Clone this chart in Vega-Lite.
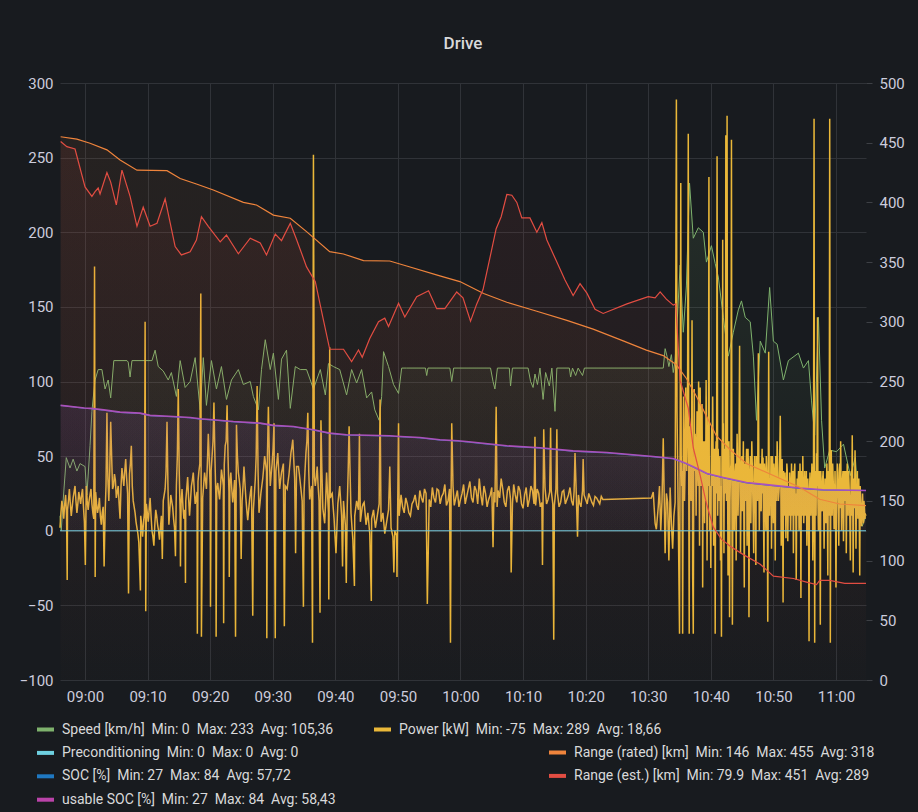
{
  "$schema": "https://vega.github.io/schema/vega-lite/v6.json",
  "width": 806,
  "height": 597,
  "autosize": {"type": "none"},
  "padding": {"left": 60, "top": 83, "right": 52, "bottom": 132},
  "background": "#181b1f",
  "title": {"text": "Drive", "anchor": "middle", "frame": "group", "font": "Roboto", "fontSize": 17, "fontWeight": 500, "color": "#d8d9da", "baseline": "alphabetic", "offset": 10},
  "config": {
    "view": {"stroke": null},
    "axis": {"labelFont": "Roboto", "labelFontSize": 15, "labelColor": "#ccccdc", "domain": false, "ticks": false, "title": null, "gridColor": "#303338", "gridWidth": 1},
    "legend": {"orient": "none", "direction": "vertical", "title": null, "labelFont": "Roboto", "labelFontSize": 14, "labelColor": "#d8d9da", "labelLimit": 600, "labelOffset": 6, "symbolType": "stroke", "symbolStrokeWidth": 4, "symbolSize": 289, "symbolOpacity": 1, "rowPadding": 4.4, "padding": 0}
  },
  "datasets": {
    "speed": [{"t":-4,"v":10},{"t":-3.8,"v":0},{"t":-3.5,"v":20},{"t":-3,"v":49},{"t":-2.4,"v":42},{"t":-1.9,"v":48},{"t":-1.3,"v":40},{"t":-0.8,"v":45},{"t":0,"v":43},{"t":0.3,"v":24},{"t":0.8,"v":57},{"t":1.1,"v":80},{"t":1.6,"v":101},{"t":2.1,"v":108},{"t":2.7,"v":108},{"t":3.2,"v":95},{"t":3.7,"v":101},{"t":4.1,"v":89},{"t":4.6,"v":114},{"t":6.7,"v":114},{"t":6.9,"v":113},{"t":7.2,"v":103},{"t":7.5,"v":114},{"t":10.7,"v":114},{"t":11.2,"v":121},{"t":11.7,"v":110},{"t":12.5,"v":107},{"t":13.3,"v":101},{"t":13.8,"v":106},{"t":14.6,"v":90},{"t":15.2,"v":114},{"t":16,"v":96},{"t":16.8,"v":100},{"t":17.6,"v":116},{"t":18.4,"v":81},{"t":18.9,"v":116},{"t":19.4,"v":84},{"t":20.2,"v":114},{"t":21,"v":95},{"t":21.8,"v":110},{"t":22.6,"v":88},{"t":23.4,"v":101},{"t":24.5,"v":108},{"t":25.3,"v":98},{"t":26.4,"v":100},{"t":26.9,"v":90},{"t":27.7,"v":81},{"t":28.2,"v":108},{"t":28.8,"v":128},{"t":29.6,"v":108},{"t":30.1,"v":119},{"t":30.9,"v":88},{"t":31.4,"v":115},{"t":32.2,"v":121},{"t":32.8,"v":82},{"t":33.6,"v":110},{"t":34.4,"v":108},{"t":35.4,"v":108},{"t":36.5,"v":95},{"t":37.6,"v":108},{"t":38.4,"v":91},{"t":38.9,"v":112},{"t":39.7,"v":110},{"t":40.7,"v":108},{"t":41.8,"v":91},{"t":42.6,"v":108},{"t":43.4,"v":99},{"t":44.2,"v":108},{"t":45,"v":89},{"t":45.8,"v":93},{"t":46.3,"v":81},{"t":47,"v":74},{"t":47.4,"v":90},{"t":47.7,"v":120},{"t":48.5,"v":110},{"t":49.3,"v":98},{"t":50.1,"v":92},{"t":50.6,"v":109},{"t":51.4,"v":109},{"t":54.4,"v":109},{"t":54.6,"v":104},{"t":54.8,"v":109},{"t":58.3,"v":109},{"t":58.6,"v":100},{"t":58.9,"v":109},{"t":64.8,"v":109},{"t":65.2,"v":100},{"t":65.5,"v":95},{"t":65.9,"v":109},{"t":67.8,"v":109},{"t":68,"v":97},{"t":68.3,"v":109},{"t":70.8,"v":109},{"t":71.2,"v":100},{"t":71.6,"v":96},{"t":71.9,"v":105},{"t":72.3,"v":98},{"t":72.7,"v":109},{"t":73.2,"v":88},{"t":73.6,"v":106},{"t":74.2,"v":97},{"t":74.6,"v":109},{"t":75.1,"v":80},{"t":75.4,"v":109},{"t":77.4,"v":109},{"t":77.6,"v":103},{"t":77.9,"v":109},{"t":78.4,"v":104},{"t":78.8,"v":109},{"t":79.5,"v":104},{"t":79.8,"v":109},{"t":92.4,"v":109},{"t":92.7,"v":122},{"t":93,"v":117},{"t":93.3,"v":110},{"t":93.7,"v":118},{"t":94,"v":106},{"t":94.3,"v":114},{"t":95.1,"v":178},{"t":95.6,"v":133},{"t":96.1,"v":164},{"t":96.6,"v":233},{"t":97.2,"v":196},{"t":98,"v":203},{"t":98.8,"v":200},{"t":99.3,"v":180},{"t":100.1,"v":191},{"t":100.7,"v":179},{"t":101.2,"v":170},{"t":102,"v":143},{"t":102.8,"v":117},{"t":103.6,"v":133},{"t":104.4,"v":148},{"t":104.9,"v":154},{"t":105.5,"v":143},{"t":106.3,"v":140},{"t":106.8,"v":117},{"t":107.3,"v":74},{"t":107.9,"v":127},{"t":108.7,"v":119},{"t":109.4,"v":163},{"t":110,"v":127},{"t":110.6,"v":125},{"t":111.6,"v":101},{"t":112.4,"v":114},{"t":114,"v":119},{"t":114.8,"v":109},{"t":115.6,"v":114},{"t":116.1,"v":87},{"t":116.6,"v":64},{"t":117.2,"v":143},{"t":117.7,"v":74},{"t":118.2,"v":42},{"t":119,"v":54},{"t":120.1,"v":53},{"t":121.2,"v":58},{"t":122.3,"v":37},{"t":123.1,"v":49},{"t":123.6,"v":16},{"t":124.2,"v":3},{"t":124.7,"v":9}],
    "power": [{"t":-4,"v":2},{"t":-3.7,"v":20},{"t":-3.4,"v":8},{"t":-3.1,"v":24},{"t":-2.85,"v":-33},{"t":-2.8,"v":14},{"t":-2.5,"v":28},{"t":-2.2,"v":10},{"t":-1.9,"v":22},{"t":-1.6,"v":30},{"t":-1.3,"v":12},{"t":-1,"v":26},{"t":-0.7,"v":18},{"t":-0.4,"v":28},{"t":-0.1,"v":6},{"t":0.05,"v":-23},{"t":0.2,"v":30},{"t":0.5,"v":14},{"t":0.8,"v":24},{"t":1.1,"v":18},{"t":1.4,"v":8},{"t":1.52,"v":177},{"t":1.62,"v":-31},{"t":1.7,"v":26},{"t":2,"v":12},{"t":2.3,"v":22},{"t":2.6,"v":4},{"t":2.9,"v":16},{"t":3.05,"v":-24},{"t":3.2,"v":10},{"t":3.5,"v":79},{"t":3.8,"v":20},{"t":4.1,"v":73},{"t":4.4,"v":28},{"t":4.7,"v":38},{"t":5,"v":22},{"t":5.3,"v":30},{"t":5.6,"v":8},{"t":5.9,"v":42},{"t":6.2,"v":30},{"t":6.5,"v":48},{"t":6.8,"v":25},{"t":6.95,"v":-42},{"t":7.1,"v":38},{"t":7.4,"v":57},{"t":7.7,"v":20},{"t":8,"v":12},{"t":8.3,"v":2},{"t":8.6,"v":-8},{"t":8.85,"v":-40},{"t":8.9,"v":10},{"t":9.2,"v":-4},{"t":9.5,"v":12},{"t":9.6,"v":140},{"t":9.7,"v":-54},{"t":9.8,"v":18},{"t":10.1,"v":6},{"t":10.4,"v":22},{"t":10.7,"v":0},{"t":11,"v":-10},{"t":11.3,"v":14},{"t":11.6,"v":4},{"t":11.9,"v":-6},{"t":12.2,"v":10},{"t":12.35,"v":-19},{"t":12.5,"v":20},{"t":12.8,"v":28},{"t":13.1,"v":73},{"t":13.4,"v":4},{"t":13.7,"v":24},{"t":14,"v":16},{"t":14.3,"v":2},{"t":14.45,"v":-17},{"t":14.6,"v":30},{"t":14.9,"v":95},{"t":15.2,"v":12},{"t":15.25,"v":-24},{"t":15.5,"v":28},{"t":15.8,"v":8},{"t":16.05,"v":-35},{"t":16.1,"v":20},{"t":16.4,"v":36},{"t":16.7,"v":10},{"t":17,"v":30},{"t":17.3,"v":39},{"t":17.6,"v":18},{"t":17.9,"v":26},{"t":17.95,"v":-69},{"t":18.2,"v":40},{"t":18.5,"v":159},{"t":18.6,"v":-71},{"t":18.8,"v":22},{"t":19.1,"v":39},{"t":19.4,"v":28},{"t":19.7,"v":65},{"t":20,"v":30},{"t":20.05,"v":-51},{"t":20.3,"v":50},{"t":20.6,"v":86},{"t":20.9,"v":24},{"t":20.95,"v":-71},{"t":21.2,"v":32},{"t":21.5,"v":21},{"t":21.8,"v":41},{"t":22.1,"v":30},{"t":22.15,"v":-62},{"t":22.4,"v":57},{"t":22.7,"v":84},{"t":23,"v":26},{"t":23.05,"v":-31},{"t":23.3,"v":39},{"t":23.6,"v":19},{"t":23.9,"v":34},{"t":24.05,"v":-71},{"t":24.2,"v":71},{"t":24.5,"v":39},{"t":24.8,"v":28},{"t":24.95,"v":-19},{"t":25.1,"v":20},{"t":25.4,"v":43},{"t":25.7,"v":22},{"t":26,"v":7},{"t":26.3,"v":21},{"t":26.6,"v":30},{"t":26.8,"v":-57},{"t":26.9,"v":14},{"t":27.2,"v":34},{"t":27.5,"v":97},{"t":27.8,"v":12},{"t":28.1,"v":25},{"t":28.4,"v":35},{"t":28.7,"v":50},{"t":29,"v":40},{"t":29.05,"v":-72},{"t":29.3,"v":83},{"t":29.6,"v":30},{"t":29.9,"v":45},{"t":30.2,"v":72},{"t":30.4,"v":-72},{"t":30.5,"v":40},{"t":30.8,"v":52},{"t":31.1,"v":28},{"t":31.4,"v":39},{"t":31.7,"v":45},{"t":31.85,"v":-64},{"t":32,"v":30},{"t":32.3,"v":28},{"t":32.6,"v":38},{"t":32.9,"v":52},{"t":33.2,"v":61},{"t":33.5,"v":35},{"t":33.65,"v":-15},{"t":33.8,"v":43},{"t":34.1,"v":43},{"t":34.4,"v":32},{"t":34.7,"v":20},{"t":34.9,"v":-51},{"t":35,"v":26},{"t":35.3,"v":52},{"t":35.6,"v":79},{"t":35.9,"v":21},{"t":36.2,"v":30},{"t":36.35,"v":-75},{"t":36.5,"v":252},{"t":36.8,"v":30},{"t":37.1,"v":43},{"t":37.4,"v":20},{"t":37.55,"v":-55},{"t":37.7,"v":74},{"t":38,"v":15},{"t":38.3,"v":5},{"t":38.6,"v":39},{"t":38.9,"v":12},{"t":38.95,"v":-46},{"t":39.1,"v":123},{"t":39.2,"v":22},{"t":39.5,"v":25},{"t":39.8,"v":8},{"t":40.1,"v":-15},{"t":40.4,"v":18},{"t":40.7,"v":30},{"t":41,"v":10},{"t":41.15,"v":-24},{"t":41.3,"v":20},{"t":41.6,"v":4},{"t":41.75,"v":-35},{"t":41.9,"v":16},{"t":42.2,"v":70},{"t":42.5,"v":12},{"t":42.8,"v":-6},{"t":43.05,"v":-37},{"t":43.1,"v":10},{"t":43.4,"v":20},{"t":43.7,"v":14},{"t":43.85,"v":65},{"t":44,"v":6},{"t":44.3,"v":16},{"t":44.6,"v":19},{"t":44.9,"v":4},{"t":45.2,"v":12},{"t":45.5,"v":-2},{"t":45.75,"v":-47},{"t":45.8,"v":8},{"t":46.1,"v":14},{"t":46.4,"v":2},{"t":46.7,"v":10},{"t":47,"v":18},{"t":47.15,"v":88},{"t":47.3,"v":6},{"t":47.6,"v":12},{"t":47.9,"v":-2},{"t":48.2,"v":6},{"t":48.5,"v":14},{"t":48.7,"v":43},{"t":48.9,"v":2},{"t":49.2,"v":-4},{"t":49.35,"v":-28},{"t":49.5,"v":0},{"t":49.8,"v":-3},{"t":49.85,"v":-31},{"t":50.1,"v":72},{"t":50.2,"v":10},{"t":50.5,"v":24},{"t":51,"v":12},{"t":51.5,"v":18},{"t":52,"v":10},{"t":52.5,"v":20},{"t":53,"v":17},{"t":53.5,"v":27},{"t":54,"v":19},{"t":54.5,"v":25},{"t":54.7,"v":-49},{"t":55,"v":21},{"t":55.5,"v":29},{"t":56,"v":19},{"t":56.5,"v":27},{"t":57,"v":23},{"t":57.5,"v":31},{"t":58,"v":20},{"t":58.4,"v":-75},{"t":58.5,"v":25},{"t":58.6,"v":72},{"t":59,"v":17},{"t":59.5,"v":27},{"t":60,"v":21},{"t":60.5,"v":31},{"t":61,"v":23},{"t":61.5,"v":33},{"t":62,"v":19},{"t":62.5,"v":27},{"t":63,"v":35},{"t":63.5,"v":17},{"t":64,"v":25},{"t":64.5,"v":21},{"t":65,"v":29},{"t":65.2,"v":-11},{"t":65.5,"v":19},{"t":65.7,"v":83},{"t":66,"v":27},{"t":66.5,"v":35},{"t":67,"v":19},{"t":67.5,"v":27},{"t":68,"v":21},{"t":68.1,"v":-28},{"t":68.5,"v":31},{"t":69,"v":19},{"t":69.5,"v":27},{"t":70,"v":15},{"t":70.5,"v":29},{"t":71,"v":21},{"t":71.5,"v":27},{"t":71.9,"v":63},{"t":72,"v":17},{"t":72.5,"v":25},{"t":73,"v":19},{"t":73.1,"v":-23},{"t":73.3,"v":68},{"t":73.5,"v":29},{"t":74,"v":21},{"t":74.4,"v":69},{"t":74.5,"v":27},{"t":74.9,"v":-73},{"t":75,"v":17},{"t":75.4,"v":68},{"t":75.5,"v":25},{"t":76,"v":19},{"t":76.5,"v":27},{"t":77,"v":21},{"t":77.5,"v":29},{"t":78,"v":17},{"t":78.3,"v":52},{"t":78.5,"v":25},{"t":78.7,"v":-4},{"t":79,"v":19},{"t":79.5,"v":27},{"t":79.6,"v":48},{"t":80,"v":21},{"t":80.5,"v":25},{"t":81,"v":19},{"t":81.5,"v":23},{"t":82,"v":20},{"t":82.5,"v":23},{"t":82.9,"v":21},{"t":90.5,"v":22},{"t":90.8,"v":26},{"t":91.1,"v":5},{"t":91.3,"v":1},{"t":91.6,"v":16},{"t":91.8,"v":30},{"t":92,"v":0},{"t":92.2,"v":20},{"t":92.4,"v":62},{"t":92.7,"v":-15},{"t":92.9,"v":25},{"t":93.1,"v":19},{"t":93.3,"v":-20},{"t":93.5,"v":29},{"t":93.7,"v":5},{"t":93.9,"v":-12},{"t":94.1,"v":10},{"t":94.3,"v":19},{"t":94.5,"v":289},{"t":94.6,"v":80},{"t":94.8,"v":10},{"t":95,"v":-69},{"t":95.1,"v":60},{"t":95.2,"v":233},{"t":95.35,"v":30},{"t":95.5,"v":-69},{"t":95.65,"v":90},{"t":95.8,"v":20},{"t":96,"v":96},{"t":96.15,"v":40},{"t":96.3,"v":110},{"t":96.4,"v":266},{"t":96.55,"v":-69},{"t":96.7,"v":70},{"t":96.85,"v":20},{"t":97,"v":141},{"t":97.1,"v":-30},{"t":97.2,"v":-69},{"t":97.35,"v":95},{"t":97.5,"v":65},{"t":97.65,"v":10},{"t":97.8,"v":80},{"t":97.9,"v":39},{"t":98.05,"v":100},{"t":98.2,"v":-10},{"t":98.3,"v":96},{"t":98.45,"v":30},{"t":98.6,"v":85},{"t":98.7,"v":-38},{"t":98.85,"v":60},{"t":99,"v":5},{"t":99.1,"v":39},{"t":99.25,"v":101},{"t":99.4,"v":-20},{"t":99.55,"v":75},{"t":99.7,"v":237},{"t":99.8,"v":0},{"t":100,"v":-25},{"t":100.15,"v":70},{"t":100.3,"v":90},{"t":100.45,"v":-10},{"t":100.6,"v":55},{"t":100.7,"v":-69},{"t":100.85,"v":60},{"t":101,"v":251},{"t":101.1,"v":10},{"t":101.25,"v":45},{"t":101.4,"v":39},{"t":101.55,"v":-20},{"t":101.7,"v":-71},{"t":101.8,"v":60},{"t":101.9,"v":195},{"t":102,"v":72},{"t":102.1,"v":-15},{"t":102.25,"v":50},{"t":102.4,"v":265},{"t":102.5,"v":20},{"t":102.6,"v":278},{"t":102.75,"v":-30},{"t":102.9,"v":60},{"t":103,"v":-58},{"t":103.15,"v":40},{"t":103.3,"v":262},{"t":103.45,"v":-63},{"t":103.6,"v":55},{"t":103.75,"v":0},{"t":103.9,"v":39},{"t":104.05,"v":-20},{"t":104.2,"v":65},{"t":104.35,"v":10},{"t":104.5,"v":50},{"t":104.6,"v":124},{"t":104.75,"v":-15},{"t":104.9,"v":45},{"t":105.05,"v":13},{"t":105.2,"v":60},{"t":105.35,"v":-38},{"t":105.5,"v":30},{"t":105.65,"v":44},{"t":105.8,"v":-10},{"t":105.95,"v":55},{"t":106.1,"v":-58},{"t":106.25,"v":40},{"t":106.4,"v":5},{"t":106.55,"v":60},{"t":106.7,"v":26},{"t":106.85,"v":-15},{"t":107,"v":50},{"t":107.2,"v":-23},{"t":107.35,"v":35},{"t":107.6,"v":119},{"t":107.75,"v":0},{"t":107.9,"v":45},{"t":108.05,"v":13},{"t":108.2,"v":55},{"t":108.35,"v":49},{"t":108.5,"v":-28},{"t":108.65,"v":40},{"t":108.8,"v":0},{"t":108.95,"v":39},{"t":109.1,"v":-61},{"t":109.25,"v":120},{"t":109.4,"v":10},{"t":109.55,"v":26},{"t":109.7,"v":-12},{"t":109.85,"v":50},{"t":110,"v":5},{"t":110.15,"v":40},{"t":110.3,"v":-20},{"t":110.45,"v":35},{"t":110.6,"v":60},{"t":110.8,"v":20},{"t":111.1,"v":77},{"t":111.25,"v":-10},{"t":111.4,"v":48},{"t":111.55,"v":-48},{"t":111.7,"v":30},{"t":111.85,"v":39},{"t":112,"v":-5},{"t":112.15,"v":45},{"t":112.3,"v":-7},{"t":112.45,"v":30},{"t":112.6,"v":39},{"t":112.75,"v":0},{"t":112.9,"v":45},{"t":113.05,"v":26},{"t":113.2,"v":-15},{"t":113.35,"v":40},{"t":113.5,"v":10},{"t":113.65,"v":-33},{"t":113.8,"v":35},{"t":113.95,"v":31},{"t":114.1,"v":0},{"t":114.25,"v":45},{"t":114.4,"v":-45},{"t":114.55,"v":24},{"t":114.7,"v":50},{"t":114.85,"v":5},{"t":115,"v":40},{"t":115.2,"v":24},{"t":115.35,"v":-10},{"t":115.5,"v":35},{"t":115.7,"v":-74},{"t":115.85,"v":39},{"t":116,"v":10},{"t":116.15,"v":45},{"t":116.3,"v":-20},{"t":116.5,"v":276},{"t":116.6,"v":-75},{"t":116.75,"v":30},{"t":116.9,"v":52},{"t":117.05,"v":143},{"t":117.2,"v":0},{"t":117.35,"v":40},{"t":117.5,"v":-63},{"t":117.65,"v":30},{"t":117.8,"v":13},{"t":117.95,"v":40},{"t":118.1,"v":-12},{"t":118.25,"v":35},{"t":118.4,"v":5},{"t":118.55,"v":45},{"t":118.7,"v":-30},{"t":118.85,"v":20},{"t":119,"v":276},{"t":119.1,"v":-75},{"t":119.25,"v":54},{"t":119.4,"v":10},{"t":119.55,"v":35},{"t":119.7,"v":1},{"t":119.85,"v":40},{"t":120,"v":-38},{"t":120.15,"v":30},{"t":120.3,"v":39},{"t":120.45,"v":-10},{"t":120.6,"v":45},{"t":120.75,"v":60},{"t":120.9,"v":0},{"t":121.05,"v":35},{"t":121.2,"v":-7},{"t":121.35,"v":40},{"t":121.5,"v":26},{"t":121.65,"v":-15},{"t":121.8,"v":45},{"t":121.95,"v":10},{"t":122.1,"v":30},{"t":122.3,"v":-20},{"t":122.45,"v":40},{"t":122.6,"v":64},{"t":122.75,"v":-28},{"t":122.9,"v":35},{"t":123.05,"v":54},{"t":123.2,"v":-12},{"t":123.35,"v":30},{"t":123.5,"v":8},{"t":123.65,"v":35},{"t":123.8,"v":-30},{"t":123.95,"v":20},{"t":124.1,"v":3},{"t":124.25,"v":25},{"t":124.4,"v":5},{"t":124.55,"v":15},{"t":124.7,"v":11},{"t":124.8,"v":10},
      {"t":-3.85,"v":12},{"t":-3.55,"v":16},{"t":-3.25,"v":18},{"t":-2.95,"v":10},{"t":-2.65,"v":20},{"t":-2.35,"v":18},{"t":-2.05,"v":16},{"t":-1.75,"v":26},{"t":-1.45,"v":20},{"t":-1.15,"v":18},{"t":-0.85,"v":22},{"t":-0.55,"v":24},{"t":-0.25,"v":16},{"t":0.35,"v":20},{"t":0.65,"v":20},{"t":0.95,"v":28},{"t":1.25,"v":12},{"t":1.85,"v":18},{"t":2.15,"v":16},{"t":2.45,"v":10},{"t":2.75,"v":12},{"t":3.35,"v":30},{"t":3.65,"v":35},{"t":3.95,"v":40},{"t":4.25,"v":50},{"t":4.55,"v":30},{"t":4.85,"v":34},{"t":5.15,"v":26},{"t":5.45,"v":18},{"t":5.75,"v":30},{"t":6.05,"v":36},{"t":6.35,"v":40},{"t":6.65,"v":35},{"t":7.25,"v":45},{"t":7.55,"v":30},{"t":7.85,"v":16},{"t":8.15,"v":6},{"t":8.45,"v":-2},{"t":9.05,"v":4},{"t":9.35,"v":6},{"t":9.95,"v":12},{"t":10.25,"v":14},{"t":10.55,"v":10},{"t":10.85,"v":-4},{"t":11.15,"v":4},{"t":11.45,"v":10},{"t":11.75,"v":0},{"t":12.05,"v":2},{"t":12.65,"v":24},{"t":12.95,"v":40},{"t":13.25,"v":30},{"t":13.55,"v":14},{"t":13.85,"v":20},{"t":14.15,"v":8},{"t":14.75,"v":50},{"t":15.05,"v":40},{"t":15.35,"v":18},{"t":15.65,"v":16},{"t":15.95,"v":14},{"t":16.25,"v":28},{"t":16.55,"v":22},{"t":16.85,"v":20},{"t":17.15,"v":34},{"t":17.45,"v":28},{"t":17.75,"v":22},{"t":18.05,"v":33},{"t":18.35,"v":45},{"t":18.95,"v":30},{"t":19.25,"v":34},{"t":19.55,"v":45},{"t":19.85,"v":48},{"t":20.15,"v":40},{"t":20.45,"v":60},{"t":20.75,"v":50},{"t":21.05,"v":28},{"t":21.35,"v":26},{"t":21.65,"v":30},{"t":21.95,"v":36},{"t":22.25,"v":44},{"t":22.55,"v":60},{"t":22.85,"v":50},{"t":23.15,"v":32},{"t":23.45,"v":28},{"t":23.75,"v":26},{"t":24.35,"v":50},{"t":24.65,"v":34},{"t":25.25,"v":30},{"t":25.55,"v":32},{"t":25.85,"v":14},{"t":26.15,"v":14},{"t":26.45,"v":26},{"t":27.05,"v":24},{"t":27.35,"v":50},{"t":27.65,"v":40},{"t":27.95,"v":18},{"t":28.25,"v":30},{"t":28.55,"v":42},{"t":28.85,"v":45},{"t":29.15,"v":50},{"t":29.45,"v":50},{"t":29.75,"v":38},{"t":30.05,"v":55},{"t":30.65,"v":46},{"t":30.95,"v":40},{"t":31.25,"v":34},{"t":31.55,"v":42},{"t":32.15,"v":29},{"t":32.45,"v":33},{"t":32.75,"v":45},{"t":33.05,"v":56},{"t":33.35,"v":48},{"t":33.95,"v":43},{"t":34.25,"v":38},{"t":34.55,"v":26},{"t":35.15,"v":40},{"t":35.45,"v":60},{"t":35.75,"v":40},{"t":36.05,"v":26},{"t":36.65,"v":36},{"t":36.95,"v":36},{"t":37.25,"v":30},{"t":37.85,"v":40},{"t":38.15,"v":10},{"t":38.45,"v":20},{"t":38.75,"v":25},{"t":39.35,"v":24},{"t":39.65,"v":16},{"t":39.95,"v":-4},{"t":40.25,"v":2},{"t":40.55,"v":24},{"t":40.85,"v":20},{"t":41.45,"v":12},{"t":42.05,"v":40},{"t":42.35,"v":40},{"t":42.65,"v":3},{"t":43.25,"v":15},{"t":43.55,"v":17},{"t":44.15,"v":11},{"t":44.45,"v":18},{"t":44.75,"v":12},{"t":45.05,"v":8},{"t":45.35,"v":5},{"t":45.95,"v":11},{"t":46.25,"v":8},{"t":46.55,"v":6},{"t":46.85,"v":14},{"t":47.45,"v":9},{"t":47.75,"v":5},{"t":48.05,"v":2},{"t":48.35,"v":10},{"t":48.6,"v":28},{"t":49.05,"v":-1},{"t":49.65,"v":-2},{"t":50.35,"v":17},
      {"t":50.75,"v":16},{"t":51.25,"v":22},{"t":51.75,"v":12},{"t":52.25,"v":18},{"t":52.75,"v":24},{"t":53.25,"v":14},{"t":53.75,"v":22},{"t":54.25,"v":28},{"t":55.25,"v":16},{"t":55.75,"v":22},{"t":56.25,"v":28},{"t":56.75,"v":18},{"t":57.25,"v":25},{"t":57.75,"v":17},{"t":58.25,"v":28},{"t":58.8,"v":30},{"t":59.25,"v":22},{"t":59.75,"v":16},{"t":60.25,"v":25},{"t":60.75,"v":18},{"t":61.25,"v":28},{"t":61.75,"v":22},{"t":62.25,"v":30},{"t":62.75,"v":18},{"t":63.25,"v":24},{"t":63.75,"v":30},{"t":64.25,"v":16},{"t":64.75,"v":24},{"t":65.35,"v":26},{"t":65.85,"v":16},{"t":66.25,"v":22},{"t":66.75,"v":28},{"t":67.25,"v":16},{"t":67.75,"v":30},{"t":68.3,"v":18},{"t":68.75,"v":24},{"t":69.25,"v":30},{"t":69.75,"v":18},{"t":70.25,"v":24},{"t":70.75,"v":16},{"t":71.25,"v":30},{"t":71.75,"v":18},{"t":72.25,"v":28},{"t":72.75,"v":16},{"t":73.75,"v":18},{"t":74.25,"v":26},{"t":74.75,"v":18},{"t":75.25,"v":28},{"t":75.75,"v":16},{"t":76.25,"v":26},{"t":76.75,"v":18},{"t":77.25,"v":24},{"t":77.75,"v":20},{"t":78.15,"v":26},{"t":78.85,"v":24},{"t":79.25,"v":16},{"t":79.75,"v":24},{"t":80.25,"v":18},{"t":80.75,"v":22},{"t":81.25,"v":17},{"t":81.75,"v":22},{"t":82.25,"v":18},{"t":82.75,"v":21},
      {"t":95.27,"v":50},{"t":95.42,"v":40},{"t":95.57,"v":30},{"t":95.72,"v":60},{"t":95.9,"v":45},{"t":96.07,"v":70},{"t":96.22,"v":55},{"t":96.47,"v":40},{"t":96.62,"v":50},{"t":96.77,"v":35},{"t":96.92,"v":60},{"t":97.27,"v":30},{"t":97.42,"v":40},{"t":97.57,"v":55},{"t":97.72,"v":45},{"t":97.85,"v":60},{"t":97.97,"v":30},{"t":98.12,"v":60},{"t":98.25,"v":45},{"t":98.37,"v":55},{"t":98.52,"v":65},{"t":98.65,"v":40},{"t":98.77,"v":45},{"t":98.92,"v":30},{"t":99.05,"v":60},{"t":99.17,"v":20},{"t":99.32,"v":55},{"t":99.47,"v":40},{"t":99.62,"v":30},{"t":99.75,"v":45},{"t":99.9,"v":30},{"t":100.07,"v":40},{"t":100.22,"v":30},{"t":100.37,"v":50},{"t":100.52,"v":25},{"t":100.65,"v":30},{"t":100.77,"v":45},{"t":100.92,"v":25},{"t":101.17,"v":55},{"t":101.32,"v":20},{"t":101.47,"v":50},{"t":101.62,"v":30},{"t":101.75,"v":15},{"t":101.85,"v":35},{"t":101.95,"v":40},{"t":102.05,"v":30},{"t":102.17,"v":55},{"t":102.32,"v":25},{"t":102.45,"v":40},{"t":102.55,"v":35},{"t":102.67,"v":45},{"t":102.82,"v":25},{"t":102.95,"v":35},{"t":103.07,"v":20},{"t":103.22,"v":45},{"t":103.37,"v":30},{"t":103.52,"v":20},{"t":103.67,"v":40},{"t":103.82,"v":25},{"t":103.97,"v":45},
      {"t":104.12,"v":30},{"t":104.27,"v":45},{"t":104.42,"v":25},{"t":104.68,"v":40},{"t":104.82,"v":20},{"t":104.97,"v":50},{"t":105.12,"v":35},{"t":105.27,"v":15},{"t":105.42,"v":45},{"t":105.57,"v":20},{"t":105.72,"v":55},{"t":105.87,"v":25},{"t":106.02,"v":40},{"t":106.17,"v":15},{"t":106.32,"v":50},{"t":106.47,"v":30},{"t":106.62,"v":45},{"t":106.77,"v":10},{"t":106.92,"v":40},{"t":107.1,"v":25},{"t":107.27,"v":50},{"t":107.47,"v":20},{"t":107.68,"v":45},{"t":107.82,"v":30},{"t":107.97,"v":15},{"t":108.12,"v":40},{"t":108.27,"v":25},{"t":108.42,"v":10},{"t":108.57,"v":45},{"t":108.72,"v":20},{"t":108.87,"v":50},{"t":109.02,"v":30},{"t":109.17,"v":15},{"t":109.32,"v":40},{"t":109.47,"v":35},{"t":109.62,"v":50},{"t":109.77,"v":25},{"t":109.92,"v":20},{"t":110.07,"v":45},{"t":110.22,"v":15},{"t":110.37,"v":50},{"t":110.52,"v":20},{"t":110.7,"v":40},{"t":110.95,"v":30},{"t":111.17,"v":45},{"t":111.32,"v":20},{"t":111.47,"v":15},{"t":111.62,"v":40},{"t":111.77,"v":10},{"t":111.92,"v":30},{"t":112.07,"v":20},{"t":112.22,"v":40},{"t":112.37,"v":15},{"t":112.52,"v":10},{"t":112.67,"v":30},{"t":112.82,"v":20},{"t":112.97,"v":10},{"t":113.12,"v":40},{"t":113.27,"v":20},{"t":113.42,"v":45},{"t":113.57,"v":25},{"t":113.72,"v":15},{"t":113.87,"v":10},{"t":114.02,"v":40},{"t":114.17,"v":20},{"t":114.32,"v":30},{"t":114.47,"v":40},{"t":114.62,"v":10},{"t":114.77,"v":25},{"t":114.92,"v":20},{"t":115.1,"v":10},{"t":115.27,"v":40},{"t":115.42,"v":15},{"t":115.6,"v":20},{"t":115.77,"v":25},{"t":115.92,"v":30},{"t":116.07,"v":20},{"t":116.22,"v":35},{"t":116.4,"v":15},{"t":116.67,"v":40},{"t":116.82,"v":10},{"t":116.97,"v":30},{"t":117.12,"v":20},{"t":117.27,"v":15},{"t":117.42,"v":25},{"t":117.57,"v":40},{"t":117.72,"v":20},{"t":117.87,"v":35},{"t":118.02,"v":25},{"t":118.17,"v":10},{"t":118.32,"v":20},{"t":118.47,"v":30},{"t":118.62,"v":15},{"t":118.77,"v":40},{"t":118.92,"v":10},{"t":119.17,"v":30},{"t":119.32,"v":20},{"t":119.47,"v":45},{"t":119.62,"v":25},{"t":119.77,"v":15},{"t":119.92,"v":20},{"t":120.07,"v":10},{"t":120.22,"v":45},{"t":120.37,"v":20},{"t":120.52,"v":25},{"t":120.67,"v":15},{"t":120.82,"v":30},{"t":120.97,"v":20},{"t":121.12,"v":40},{"t":121.27,"v":15},{"t":121.42,"v":20},{"t":121.57,"v":40},{"t":121.72,"v":20},{"t":121.87,"v":25},{"t":122.02,"v":40},{"t":122.2,"v":15},{"t":122.37,"v":20},{"t":122.52,"v":10},{"t":122.67,"v":30},{"t":122.82,"v":20},{"t":122.97,"v":15},{"t":123.12,"v":30},{"t":123.27,"v":20},{"t":123.42,"v":40},{"t":123.57,"v":20},{"t":123.72,"v":10},{"t":123.87,"v":30},{"t":124.02,"v":15},{"t":124.17,"v":10},{"t":124.32,"v":15},{"t":124.47,"v":20},{"t":124.62,"v":8}],
    "pre": [{"t":-4,"v":0},{"t":124.8,"v":0}],
    "soc": [{"t":-3.9,"v":84},{"t":-0.1,"v":82},{"t":0.9,"v":81.8},{"t":3,"v":80.7},{"t":5.6,"v":79.2},{"t":8.8,"v":78.5},{"t":10.4,"v":77},{"t":14.1,"v":76.3},{"t":16.8,"v":75.6},{"t":18.4,"v":74.7},{"t":20.5,"v":74.1},{"t":23.7,"v":72.9},{"t":28,"v":71.8},{"t":30.1,"v":70.3},{"t":33.3,"v":69.6},{"t":36.5,"v":67.4},{"t":39.1,"v":65.1},{"t":41.8,"v":64},{"t":48.7,"v":63.4},{"t":50.4,"v":62.9},{"t":53.5,"v":62.2},{"t":56.7,"v":60.7},{"t":59.6,"v":60},{"t":61.3,"v":59.3},{"t":67.4,"v":56.6},{"t":72.7,"v":55.3},{"t":78,"v":53.2},{"t":83.4,"v":52.1},{"t":90.8,"v":49.5},{"t":94,"v":48.1},{"t":95.7,"v":45.5},{"t":97.2,"v":42.6},{"t":99.4,"v":38.1},{"t":102,"v":35.4},{"t":105.7,"v":32},{"t":110,"v":30.1},{"t":114.2,"v":28.3},{"t":117.9,"v":27.2},{"t":124.8,"v":27}],
    "usoc": [{"t":-3.9,"v":84},{"t":-0.1,"v":82.2},{"t":0.9,"v":82},{"t":3,"v":81},{"t":5.6,"v":79.5},{"t":8.8,"v":78.8},{"t":10.4,"v":77.3},{"t":14.1,"v":76.6},{"t":16.8,"v":75.9},{"t":18.4,"v":75},{"t":20.5,"v":74.4},{"t":23.7,"v":73.2},{"t":28,"v":72.1},{"t":30.1,"v":70.6},{"t":33.3,"v":69.9},{"t":36.5,"v":67.7},{"t":39.1,"v":65.4},{"t":41.8,"v":64.3},{"t":48.7,"v":63.7},{"t":50.4,"v":63.2},{"t":53.5,"v":62.5},{"t":56.7,"v":61},{"t":59.6,"v":60.3},{"t":61.3,"v":59.6},{"t":67.4,"v":56.9},{"t":72.7,"v":55.6},{"t":78,"v":53.5},{"t":83.4,"v":52.4},{"t":90.8,"v":49.8},{"t":94,"v":48.4},{"t":95.7,"v":45.8},{"t":97.2,"v":42.9},{"t":99.4,"v":38.4},{"t":102,"v":35.7},{"t":105.7,"v":32.3},{"t":110,"v":30.4},{"t":114.2,"v":28.6},{"t":117.9,"v":27.5},{"t":124.8,"v":27}],
    "rated": [{"t":-3.9,"v":455},{"t":-1.3,"v":453},{"t":0.8,"v":449.5},{"t":3.5,"v":444},{"t":5.6,"v":435.5},{"t":8.3,"v":427},{"t":13.1,"v":426.6},{"t":15.2,"v":420},{"t":17.8,"v":415.4},{"t":20.5,"v":410.4},{"t":25.3,"v":400},{"t":27.4,"v":397.8},{"t":30.1,"v":389.4},{"t":32.8,"v":386.7},{"t":35.4,"v":375.5},{"t":39.1,"v":358.7},{"t":41.3,"v":356.8},{"t":44.5,"v":351.2},{"t":48.7,"v":350.9},{"t":51.4,"v":346.7},{"t":56.7,"v":338.5},{"t":59.9,"v":333.7},{"t":63.7,"v":323.7},{"t":67.4,"v":316.4},{"t":72.2,"v":308.8},{"t":77,"v":301.2},{"t":81.2,"v":293.9},{"t":86,"v":284},{"t":89.7,"v":276.3},{"t":92.4,"v":271.7},{"t":94.5,"v":264},{"t":96.1,"v":252.5},{"t":97.7,"v":237.6},{"t":99.3,"v":221},{"t":100.9,"v":204.4},{"t":103.1,"v":192.8},{"t":105.7,"v":181.3},{"t":110,"v":171.3},{"t":114.2,"v":161.4},{"t":117.4,"v":151.4},{"t":120.6,"v":147.4},{"t":124.8,"v":146}],
    "est": [{"t":-3.9,"v":451},{"t":-2.9,"v":446.7},{"t":-1.6,"v":444.7},{"t":0,"v":413},{"t":1.1,"v":405},{"t":1.6,"v":409},{"t":2.1,"v":412},{"t":2.4,"v":407},{"t":3.5,"v":425},{"t":4.1,"v":417},{"t":5,"v":398},{"t":5.9,"v":427},{"t":7.2,"v":405},{"t":8.3,"v":380},{"t":9.3,"v":396},{"t":10.4,"v":380},{"t":11.5,"v":382.5},{"t":12.8,"v":403},{"t":14.4,"v":363},{"t":15.4,"v":356},{"t":16.8,"v":358.7},{"t":17.8,"v":368.5},{"t":18.6,"v":388},{"t":19.7,"v":380},{"t":21.6,"v":367},{"t":22.6,"v":372.7},{"t":24.5,"v":357},{"t":26.4,"v":370},{"t":28,"v":366},{"t":29,"v":356},{"t":30.4,"v":373.5},{"t":31.4,"v":368},{"t":32.8,"v":382.5},{"t":33.8,"v":369},{"t":35.4,"v":346},{"t":36.8,"v":333.6},{"t":38.1,"v":301.5},{"t":39.1,"v":277},{"t":41.3,"v":277},{"t":42.6,"v":266.6},{"t":43.7,"v":276.4},{"t":44.3,"v":270.3},{"t":45.5,"v":286},{"t":46.9,"v":300},{"t":47.9,"v":303},{"t":48.5,"v":296},{"t":50.1,"v":315.5},{"t":51.1,"v":304},{"t":53,"v":321},{"t":54.9,"v":326},{"t":56.2,"v":311},{"t":57.5,"v":311},{"t":59.4,"v":325},{"t":60.4,"v":320},{"t":61.6,"v":300.5},{"t":62.6,"v":315},{"t":63.6,"v":327},{"t":64.7,"v":353.5},{"t":65.7,"v":378},{"t":66.5,"v":388},{"t":67.4,"v":406.6},{"t":68.2,"v":406},{"t":69,"v":400},{"t":69.8,"v":387},{"t":71.1,"v":387},{"t":72.2,"v":375},{"t":73,"v":383},{"t":73.8,"v":368.5},{"t":75.4,"v":350},{"t":76.7,"v":335},{"t":78,"v":322},{"t":79.1,"v":332},{"t":80.2,"v":324},{"t":81.5,"v":310.5},{"t":82.8,"v":307},{"t":86.6,"v":315},{"t":90,"v":321},{"t":91.1,"v":320},{"t":91.9,"v":325},{"t":92.9,"v":319},{"t":94,"v":314},{"t":94.4,"v":315},{"t":95.1,"v":251},{"t":96.4,"v":227.6},{"t":97.2,"v":194.5},{"t":98.3,"v":171.3},{"t":99.3,"v":148},{"t":100.4,"v":128},{"t":101.7,"v":118},{"t":103.1,"v":112},{"t":105.2,"v":105},{"t":107.9,"v":97},{"t":110,"v":87},{"t":113.2,"v":85},{"t":115.3,"v":82},{"t":116.9,"v":79.9},{"t":117.4,"v":83.5},{"t":119,"v":83.5},{"t":121.4,"v":81},{"t":124.8,"v":81}]
  },
  "encoding": {
    "x": {
      "field": "t",
      "type": "quantitative",
      "scale": {"domain": [-4, 124.8], "nice": false, "zero": false},
      "axis": {
        "values": [0, 10, 20, 30, 40, 50, 60, 70, 80, 90, 100, 110, 120],
        "labelExpr": "(datum.value < 60 ? '09:' : datum.value < 120 ? '10:' : '11:') + (datum.value % 60 == 0 ? '00' : datum.value % 60)",
        "grid": true,
        "labelPadding": 9
      }
    }
  },
  "layer": [
    {
      "data": {"name": "speed"},
      "layer": [
        {
          "mark": {"type": "area", "color": {"gradient": "linear", "x1": 0, "y1": 0, "x2": 0, "y2": 1, "stops": [{"offset": 0, "color": "rgba(126,178,109,0.12)"}, {"offset": 1, "color": "rgba(126,178,109,0.02)"}]}},
          "encoding": {
            "y": {
              "field": "v",
              "type": "quantitative",
              "scale": {"domain": [-100, 300], "nice": false},
              "axis": {"orient": "left", "values": [-100, -50, 0, 50, 100, 150, 200, 250, 300], "grid": true, "labelPadding": 7}
            }
          }
        },
        {
          "mark": {"type": "line", "strokeWidth": 1},
          "encoding": {
            "y": {"field": "v", "type": "quantitative"},
            "color": {
              "datum": "Speed [km/h]",
              "type": "nominal",
              "scale": {"domain": ["Speed [km/h]", "Preconditioning", "SOC [%]", "usable SOC [%]"], "range": ["#7EB26D", "#6ED0E0", "#1F78C1", "#BA43A9"]},
              "legend": {
                "legendX": -25,
                "legendY": 636,
                "labelExpr": "datum.label == 'Speed [km/h]' ? 'Speed [km/h]\u00a0 Min: 0\u00a0 Max: 233\u00a0 Avg: 105,36' : datum.label == 'Preconditioning' ? 'Preconditioning\u00a0 Min: 0\u00a0 Max: 0\u00a0 Avg: 0' : datum.label == 'SOC [%]' ? 'SOC [%]\u00a0 Min: 27\u00a0 Max: 84\u00a0 Avg: 57,72' : 'usable SOC [%]\u00a0 Min: 27\u00a0 Max: 84\u00a0 Avg: 58,43'"
              }
            }
          }
        }
      ]
    },
    {
      "data": {"name": "power"},
      "mark": {"type": "line", "strokeWidth": 1.5},
      "encoding": {
        "y": {"field": "v", "type": "quantitative", "scale": {"domain": [-100, 300], "nice": false}, "axis": null},
        "color": {
          "datum": "Power [kW]",
          "type": "nominal",
          "scale": {"domain": ["Power [kW]"], "range": ["#EAB839"]},
          "legend": {
            "legendX": 312,
            "legendY": 636,
            "labelExpr": "'Power [kW]\u00a0 Min: -75\u00a0 Max: 289\u00a0 Avg: 18,66'"
          }
        }
      }
    },
    {
      "layer": [
        {
          "data": {"name": "pre"},
          "mark": {"type": "line", "strokeWidth": 1},
          "encoding": {
            "y": {"field": "v", "type": "quantitative", "scale": {"domain": [-100, 300], "nice": false}, "axis": null},
            "color": {"datum": "Preconditioning", "type": "nominal", "legend": null}
          }
        },
        {
          "data": {"name": "soc"},
          "mark": {"type": "area", "color": {"gradient": "linear", "x1": 0, "y1": 0, "x2": 0, "y2": 1, "stops": [{"offset": 0, "color": "rgba(31,120,193,0.06)"}, {"offset": 1, "color": "rgba(31,120,193,0.01)"}]}},
          "encoding": {"y": {"field": "v", "type": "quantitative"}}
        },
        {
          "data": {"name": "soc"},
          "mark": {"type": "line", "strokeWidth": 1},
          "encoding": {
            "y": {"field": "v", "type": "quantitative"},
            "color": {"datum": "SOC [%]", "type": "nominal", "legend": null}
          }
        },
        {
          "data": {"name": "usoc"},
          "mark": {"type": "area", "color": {"gradient": "linear", "x1": 0, "y1": 0, "x2": 0, "y2": 1, "stops": [{"offset": 0, "color": "rgba(186,67,169,0.1)"}, {"offset": 1, "color": "rgba(186,67,169,0.03)"}]}},
          "encoding": {"y": {"field": "v", "type": "quantitative"}}
        },
        {
          "data": {"name": "usoc"},
          "mark": {"type": "line", "strokeWidth": 1.6},
          "encoding": {
            "y": {"field": "v", "type": "quantitative"},
            "color": {
              "datum": "usable SOC [%]",
              "type": "nominal",
              "scale": {"domain": ["Speed [km/h]", "Preconditioning", "SOC [%]", "usable SOC [%]"], "range": ["#7EB26D", "#6ED0E0", "#1F78C1", "#A64FC4"]},
              "legend": null
            }
          }
        }
      ]
    },
    {
      "layer": [
        {
          "data": {"name": "rated"},
          "mark": {"type": "area", "color": {"gradient": "linear", "x1": 0, "y1": 0, "x2": 0, "y2": 1, "stops": [{"offset": 0, "color": "rgba(239,132,60,0.065)"}, {"offset": 1, "color": "rgba(239,132,60,0.005)"}]}},
          "encoding": {
            "y": {
              "field": "v",
              "type": "quantitative",
              "scale": {"domain": [0, 500], "nice": false},
              "axis": {"orient": "right", "values": [0, 50, 100, 150, 200, 250, 300, 350, 400, 450, 500], "grid": false, "ticks": true, "tickSize": 6, "tickColor": "#3d4045", "labelPadding": 7}
            }
          }
        },
        {
          "data": {"name": "est"},
          "mark": {"type": "area", "color": {"gradient": "linear", "x1": 0, "y1": 0, "x2": 0, "y2": 1, "stops": [{"offset": 0, "color": "rgba(226,77,66,0.085)"}, {"offset": 1, "color": "rgba(226,77,66,0.005)"}]}},
          "encoding": {"y": {"field": "v", "type": "quantitative"}}
        },
        {
          "data": {"name": "rated"},
          "mark": {"type": "line", "strokeWidth": 1.2},
          "encoding": {
            "y": {"field": "v", "type": "quantitative"},
            "color": {
              "datum": "Range (rated) [km]",
              "type": "nominal",
              "scale": {"domain": ["Range (rated) [km]", "Range (est.) [km]"], "range": ["#EF843C", "#E24D42"]},
              "legend": {
                "legendX": 487,
                "legendY": 659,
                "labelExpr": "datum.label == 'Range (rated) [km]' ? 'Range (rated) [km]\u00a0 Min: 146\u00a0 Max: 455\u00a0 Avg: 318' : 'Range (est.) [km]\u00a0 Min: 79.9\u00a0 Max: 451\u00a0 Avg: 289'"
              }
            }
          }
        },
        {
          "data": {"name": "est"},
          "mark": {"type": "line", "strokeWidth": 1.2},
          "encoding": {
            "y": {"field": "v", "type": "quantitative"},
            "color": {"datum": "Range (est.) [km]", "type": "nominal"}
          }
        }
      ]
    }
  ],
  "resolve": {"scale": {"y": "independent", "color": "independent"}}
}
